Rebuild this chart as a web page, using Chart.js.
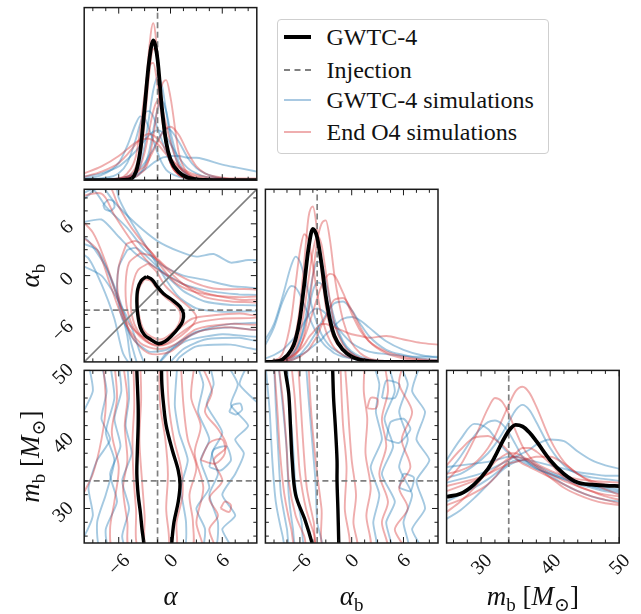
<!DOCTYPE html>
<html>
<head>
<meta charset="utf-8">
<script src="https://cdn.jsdelivr.net/npm/chart.js@4.4.1/dist/chart.umd.min.js"></script>
<style>
  body { margin: 0; background: #fff; width: 641px; height: 614px; overflow: hidden; position: relative; }
  canvas { position: absolute; left: 0; top: 0; }
  #legend { position: absolute; left: 276.5px; top: 19px; width: 270px; height: 133px; border: 1.5px solid #cfcfcf; border-radius: 4px; background: #fff;
    font-family: "Liberation Serif", "DejaVu Serif", serif; font-size: 24px; color: #111; }
  #legend .row { position: absolute; left: 0; height: 30px; line-height: 30px; width: 100%; }
  #legend .h { position: absolute; left: 6px; width: 27px; }
  #legend .t { position: absolute; left: 49px; white-space: nowrap; }
</style>
</head>
<body>
<canvas id="p0" width="641" height="614"></canvas>
<canvas id="p1" width="641" height="614"></canvas>
<canvas id="p2" width="641" height="614"></canvas>
<canvas id="p3" width="641" height="614"></canvas>
<canvas id="p4" width="641" height="614"></canvas>
<canvas id="p5" width="641" height="614"></canvas>
<div id="legend">
  <div class="row" style="top:2px"><span class="h" style="top:13px;border-top:4px solid #000"></span><span class="t">GWTC-4</span></div>
  <div class="row" style="top:35px"><span class="h" style="top:14px;border-top:2px dashed #808080"></span><span class="t">Injection</span></div>
  <div class="row" style="top:65px"><span class="h" style="top:14px;border-top:2px solid #a9c9e2"></span><span class="t">GWTC-4 simulations</span></div>
  <div class="row" style="top:97px"><span class="h" style="top:14px;border-top:2px solid #efaeaf"></span><span class="t">End O4 simulations</span></div>
</div>
<script>
const W = 641, H = 614;
const colX = [84.2, 265.4, 446.6];
const rowY = [7.6, 189.3, 370.4];
const SIZE = 172.6;

// injected values and axis ranges
const injAlpha = -1.5, injAlphaB = -4, injMb = 34;
const alphaRange = [-10, 10], alphaBRange = [-10, 10], mbRange = [25, 50];
const angleTicks = [-6, 0, 6], angleTickLabels = ["\u22126", "0", "6"];
const angleMinor = [-9, -7.5, -4.5, -3, -1.5, 1.5, 3, 4.5, 7.5, 9];
const mbTicks = [30, 40, 50], mbTickLabels = ["30", "40", "50"];
const mbMinor = [26, 28, 32, 34, 36, 38, 42, 44, 46, 48];

// 1D marginal of alpha
const alphaGrid = [-10, -8, -6, -5, -4, -3.5, -3, -2.5, -2, -1.5, -1, -0.5, 0, 1, 2, 3, 4, 6, 8, 10];
const alphaGwtc = [0, 0, 0, 0.003, 0.05, 0.17, 0.42, 0.68, 0.81, 0.70, 0.42, 0.22, 0.12, 0.045, 0.015, 0.005, 0.002, 0, 0, 0];
const alphaRed = [
  [0, 0, 0.005, 0.02, 0.08, 0.18, 0.42, 0.75, 0.91, 0.72, 0.40, 0.20, 0.10, 0.03, 0.01, 0, 0, 0, 0, 0],
  [0, 0, 0, 0.005, 0.02, 0.04, 0.06, 0.12, 0.25, 0.42, 0.55, 0.58, 0.48, 0.15, 0.04, 0.01, 0, 0, 0, 0],
  [0, 0, 0.01, 0.04, 0.14, 0.30, 0.50, 0.66, 0.68, 0.55, 0.36, 0.20, 0.10, 0.03, 0.01, 0, 0, 0, 0, 0],
  [0.02, 0.05, 0.10, 0.15, 0.21, 0.24, 0.26, 0.27, 0.26, 0.24, 0.21, 0.17, 0.13, 0.08, 0.05, 0.03, 0.02, 0.01, 0.005, 0],
  [0.04, 0.08, 0.14, 0.18, 0.22, 0.23, 0.24, 0.24, 0.23, 0.21, 0.18, 0.15, 0.12, 0.07, 0.04, 0.02, 0.01, 0.005, 0, 0],
  [0, 0, 0, 0.01, 0.04, 0.08, 0.16, 0.28, 0.40, 0.46, 0.42, 0.32, 0.22, 0.08, 0.03, 0.01, 0, 0, 0, 0],
  [0, 0, 0.01, 0.02, 0.04, 0.06, 0.08, 0.12, 0.17, 0.22, 0.27, 0.30, 0.31, 0.26, 0.16, 0.08, 0.04, 0.015, 0.01, 0.01],
  [0, 0, 0, 0.01, 0.05, 0.14, 0.33, 0.60, 0.76, 0.70, 0.45, 0.22, 0.10, 0.03, 0.01, 0, 0, 0, 0, 0]
];
const alphaBlue = [
  [0, 0, 0, 0.01, 0.04, 0.09, 0.20, 0.36, 0.52, 0.60, 0.55, 0.40, 0.24, 0.08, 0.03, 0.01, 0, 0, 0, 0],
  [0, 0.01, 0.04, 0.10, 0.24, 0.33, 0.39, 0.40, 0.37, 0.30, 0.23, 0.16, 0.10, 0.04, 0.02, 0.01, 0, 0, 0, 0],
  [0.005, 0.008, 0.01, 0.02, 0.03, 0.045, 0.06, 0.08, 0.10, 0.115, 0.13, 0.135, 0.14, 0.14, 0.13, 0.13, 0.12, 0.09, 0.07, 0.05],
  [0, 0, 0.01, 0.02, 0.05, 0.07, 0.10, 0.14, 0.18, 0.23, 0.27, 0.30, 0.29, 0.22, 0.13, 0.07, 0.04, 0.01, 0, 0],
  [0.01, 0.03, 0.10, 0.20, 0.33, 0.37, 0.36, 0.30, 0.23, 0.16, 0.10, 0.06, 0.04, 0.02, 0.01, 0, 0, 0, 0, 0],
  [0, 0, 0, 0, 0.02, 0.04, 0.08, 0.16, 0.29, 0.41, 0.46, 0.40, 0.28, 0.10, 0.03, 0.01, 0, 0, 0, 0],
  [0.02, 0.04, 0.08, 0.12, 0.17, 0.20, 0.23, 0.26, 0.28, 0.29, 0.28, 0.25, 0.21, 0.13, 0.07, 0.04, 0.02, 0.01, 0, 0]
];

// 1D marginal of alpha_b
const alphaBGrid = [-10, -9, -8, -7, -6.5, -6, -5.5, -5, -4.5, -4, -3.5, -3, -2.5, -2, -1, 0, 1, 2, 4, 6, 8, 10];
const alphaBGwtc = [0, 0.002, 0.015, 0.07, 0.13, 0.25, 0.45, 0.66, 0.77, 0.72, 0.57, 0.38, 0.24, 0.15, 0.07, 0.03, 0.012, 0.005, 0, 0, 0, 0];
const alphaBRed = [
  [0, 0.005, 0.02, 0.08, 0.16, 0.32, 0.58, 0.84, 0.90, 0.76, 0.52, 0.32, 0.20, 0.13, 0.07, 0.04, 0.02, 0.01, 0, 0, 0, 0],
  [0, 0, 0, 0.02, 0.04, 0.08, 0.16, 0.30, 0.50, 0.70, 0.80, 0.82, 0.70, 0.50, 0.24, 0.11, 0.05, 0.02, 0.005, 0, 0, 0],
  [0, 0.01, 0.05, 0.25, 0.45, 0.64, 0.74, 0.70, 0.56, 0.40, 0.27, 0.18, 0.12, 0.08, 0.04, 0.02, 0.01, 0, 0, 0, 0, 0],
  [0, 0.005, 0.01, 0.03, 0.05, 0.09, 0.14, 0.21, 0.29, 0.37, 0.44, 0.49, 0.51, 0.50, 0.40, 0.28, 0.18, 0.12, 0.06, 0.03, 0.015, 0.01],
  [0, 0.005, 0.01, 0.03, 0.05, 0.07, 0.10, 0.14, 0.17, 0.20, 0.22, 0.22, 0.21, 0.20, 0.18, 0.16, 0.15, 0.14, 0.15, 0.13, 0.11, 0.10],
  [0, 0, 0, 0.01, 0.02, 0.03, 0.05, 0.07, 0.11, 0.15, 0.21, 0.26, 0.32, 0.36, 0.37, 0.30, 0.20, 0.12, 0.05, 0.02, 0.01, 0],
  [0, 0, 0.01, 0.04, 0.08, 0.16, 0.30, 0.48, 0.64, 0.73, 0.68, 0.52, 0.35, 0.22, 0.10, 0.05, 0.02, 0.01, 0, 0, 0, 0]
];
const alphaBBlue = [
  [0.13, 0.22, 0.38, 0.56, 0.61, 0.58, 0.50, 0.40, 0.30, 0.22, 0.16, 0.12, 0.09, 0.07, 0.04, 0.02, 0.01, 0.005, 0, 0, 0, 0],
  [0.10, 0.20, 0.35, 0.44, 0.43, 0.39, 0.33, 0.27, 0.21, 0.16, 0.12, 0.09, 0.07, 0.05, 0.03, 0.02, 0.01, 0.005, 0, 0, 0, 0],
  [0, 0, 0.01, 0.03, 0.06, 0.12, 0.22, 0.36, 0.50, 0.58, 0.57, 0.47, 0.35, 0.25, 0.12, 0.06, 0.03, 0.015, 0.005, 0, 0, 0],
  [0, 0, 0, 0.01, 0.02, 0.04, 0.07, 0.10, 0.14, 0.18, 0.23, 0.27, 0.31, 0.34, 0.35, 0.30, 0.22, 0.15, 0.07, 0.04, 0.02, 0.01],
  [0, 0, 0.01, 0.02, 0.03, 0.04, 0.05, 0.07, 0.09, 0.11, 0.13, 0.16, 0.18, 0.21, 0.25, 0.26, 0.24, 0.20, 0.12, 0.07, 0.04, 0.025],
  [0, 0, 0.01, 0.04, 0.07, 0.12, 0.20, 0.30, 0.41, 0.46, 0.45, 0.38, 0.30, 0.22, 0.11, 0.05, 0.02, 0.01, 0, 0, 0, 0],
  [0.02, 0.04, 0.07, 0.12, 0.15, 0.19, 0.23, 0.27, 0.30, 0.31, 0.30, 0.28, 0.25, 0.22, 0.16, 0.11, 0.08, 0.06, 0.045, 0.035, 0.03, 0.03]
];

// 1D marginal of m_b
const mbGrid = [25, 27, 29, 31, 32, 33, 34, 35, 36, 37, 38, 40, 42, 44, 46, 48, 50];
const mbGwtc = [0.268, 0.285, 0.34, 0.43, 0.50, 0.58, 0.65, 0.684, 0.675, 0.64, 0.59, 0.48, 0.40, 0.35, 0.338, 0.333, 0.33];
const mbRed = [
  [0.40, 0.42, 0.46, 0.55, 0.62, 0.71, 0.80, 0.88, 0.905, 0.87, 0.79, 0.60, 0.47, 0.40, 0.36, 0.34, 0.33],
  [0.36, 0.45, 0.60, 0.78, 0.84, 0.82, 0.75, 0.65, 0.56, 0.50, 0.46, 0.42, 0.39, 0.37, 0.36, 0.355, 0.35],
  [0.45, 0.54, 0.61, 0.62, 0.60, 0.57, 0.53, 0.49, 0.46, 0.44, 0.42, 0.38, 0.34, 0.30, 0.27, 0.25, 0.23],
  [0.30, 0.33, 0.36, 0.40, 0.43, 0.46, 0.49, 0.50, 0.49, 0.47, 0.44, 0.38, 0.32, 0.28, 0.25, 0.23, 0.22],
  [0.22, 0.25, 0.29, 0.34, 0.38, 0.43, 0.48, 0.52, 0.55, 0.55, 0.53, 0.46, 0.38, 0.33, 0.30, 0.27, 0.25],
  [0.33, 0.35, 0.37, 0.40, 0.42, 0.44, 0.46, 0.47, 0.48, 0.49, 0.50, 0.50, 0.46, 0.40, 0.35, 0.31, 0.28],
  [0.18, 0.24, 0.32, 0.42, 0.47, 0.50, 0.52, 0.52, 0.50, 0.48, 0.45, 0.40, 0.36, 0.33, 0.30, 0.28, 0.27]
];
const mbBlue = [
  [0.38, 0.40, 0.45, 0.52, 0.57, 0.63, 0.70, 0.77, 0.80, 0.77, 0.70, 0.55, 0.45, 0.40, 0.38, 0.37, 0.36],
  [0.40, 0.50, 0.62, 0.70, 0.71, 0.69, 0.64, 0.57, 0.50, 0.46, 0.43, 0.40, 0.37, 0.35, 0.33, 0.32, 0.31],
  [0.48, 0.60, 0.69, 0.66, 0.61, 0.56, 0.52, 0.49, 0.47, 0.45, 0.43, 0.40, 0.37, 0.34, 0.32, 0.30, 0.29],
  [0.35, 0.37, 0.39, 0.42, 0.44, 0.46, 0.48, 0.50, 0.52, 0.54, 0.57, 0.60, 0.59, 0.53, 0.48, 0.45, 0.43],
  [0.14, 0.19, 0.26, 0.34, 0.38, 0.42, 0.45, 0.47, 0.48, 0.47, 0.45, 0.41, 0.38, 0.35, 0.33, 0.31, 0.30],
  [0.44, 0.45, 0.46, 0.47, 0.48, 0.49, 0.50, 0.50, 0.49, 0.48, 0.47, 0.45, 0.43, 0.41, 0.40, 0.39, 0.39],
  [0.24, 0.28, 0.32, 0.37, 0.40, 0.43, 0.46, 0.48, 0.48, 0.46, 0.44, 0.39, 0.34, 0.30, 0.27, 0.25, 0.24]
];

// 2D contours: alpha (x) vs alpha_b (y)
const abGwtc = [[-2.8, -0.1], [-3.4, -0.6], [-3.8, -1.6], [-3.9, -3.0], [-3.8, -4.5], [-3.5, -6.0], [-3.0, -6.9], [-2.3, -7.4], [-1.4, -7.9], [-0.6, -7.6], [0.1, -7.0], [0.9, -6.1], [1.4, -5.3], [1.5, -4.4], [1.1, -3.6], [0.3, -2.9], [-0.8, -2.1], [-1.6, -1.2], [-2.1, -0.5], [-2.8, -0.1]];
const abRed = [
  [[-3.0, -0.4], [-3.6, -1.4], [-3.8, -3.0], [-3.6, -4.8], [-3.1, -6.3], [-2.2, -7.1], [-1.2, -7.4], [-0.3, -7.0], [0.6, -6.2], [1.1, -5.2], [1.1, -4.2], [0.5, -3.4], [-0.5, -2.6], [-1.5, -1.6], [-2.3, -0.6], [-3.0, -0.4]],
  [[-2.6, 1.4], [-3.8, 0.6], [-4.4, -1.2], [-4.6, -3.5], [-4.2, -5.6], [-3.2, -7.2], [-1.8, -8.1], [-0.3, -7.9], [1.3, -6.9], [2.5, -5.8], [3.0, -4.8], [2.4, -3.9], [1.0, -2.7], [-0.6, -1.2], [-1.6, 0.4], [-2.6, 1.4]],
  [[-5.1, 3.7], [-4.0, 4.0], [-2.5, 3.0], [-1.2, 1.2], [0.5, -0.8], [2.5, -1.8], [5, -2.3], [8, -2.5], [11, -2.6], [11, -4.6], [8, -4.4], [5, -4.6], [2.5, -5.0], [0.8, -6.3], [-0.8, -7.6], [-2.2, -7.6], [-4.0, -6.5], [-5.2, -5.0], [-6.1, -2.0], [-6.0, 1.0], [-5.1, 3.7]],
  [[-11, 9], [-8, 9.5], [-6.5, 7], [-4.5, 4], [-2.5, 1.5], [0.5, -0.5], [4, -2], [8, -2.8], [11, -3], [11, -5.5], [7, -5.6], [3, -6.2], [0.5, -8.0], [-1.5, -8.5], [-3.5, -7.8], [-5.5, -5], [-7, -1], [-8.5, 3], [-11, 5]],
  [[-3.5, 2.6], [-4.8, 1.5], [-5.2, -1.0], [-5.0, -4.0], [-4.0, -6.5], [-2.5, -7.8], [-0.8, -8.0], [1.0, -6.8], [3, -5.5], [6, -5.0], [11, -4.7], [11, -3.3], [7, -3.0], [4, -2.5], [1.5, -1.0], [-0.5, 0.8], [-2.0, 2.2], [-3.5, 2.6]],
  [[-11, 11], [-7.5, 11], [-6, 8], [-4.5, 5.5], [-2.5, 3], [-0.5, 1], [2, -0.5], [5, -1.5], [11, -2], [11, -6], [6, -6], [2.5, -6.8], [0, -8.8], [-2.5, -9], [-4.5, -7], [-6, -3], [-7.5, 1.5], [-9, 5], [-11, 7]]
];
const abBlue = [
  [[-11, 11], [-8.5, 11], [-6.5, 8.5], [-4, 6], [-1.5, 4], [1, 2.8], [3, 2.2], [5, 2.5], [7, 1.5], [9, 1.8], [11, 1.5], [11, -7.5], [8, -7.2], [4, -7.4], [1.5, -8.5], [0, -10], [-0.5, -11], [-4, -11], [-5.5, -9], [-6.5, -5], [-8, -1], [-9.5, 2], [-11, 3]],
  [[-11, 9], [-9, 10], [-7.5, 8], [-5, 5.5], [-3, 3], [-1, 1.2], [1.5, 0], [4, -0.5], [7, -1.2], [11, -1.8], [11, -6.2], [7, -6], [3, -6.5], [0.5, -8.2], [-1.2, -10], [-2.5, -11], [-4.5, -10], [-5, -7], [-6, -3], [-7.5, 1], [-9.5, 4], [-11, 5]],
  [[-5, 3], [-6, 1], [-6.2, -2], [-5.6, -5], [-4.2, -7.5], [-2.5, -8.8], [-0.5, -8.6], [1.5, -7.4], [4, -6.2], [7, -5.6], [11, -5.3], [11, -3.6], [7, -3.4], [4, -3], [1.5, -1.8], [-0.5, 0], [-2.5, 2], [-4, 3.2], [-5, 3]],
  [[-11, 8], [-9, 9.8], [-8, 11], [-6.5, 11], [-6, 9], [-5, 7], [-3.5, 4.5], [-2, 2], [-0.5, -0.5], [1, -2.5], [3, -3.8], [6, -4.2], [11, -4.3], [11, -7], [6, -6.8], [2, -7.5], [-0.5, -9], [-2, -11], [-3.5, -11], [-4.5, -8], [-5.5, -4], [-7, 0], [-8.5, 3], [-11, 4]],
  [[-7.8, 8.2], [-7.2, 8.8], [-6.6, 8.6], [-6.5, 7.9], [-7.0, 7.5], [-7.6, 7.7], [-7.8, 8.2]],
  [[-11, 6], [-8, 6.5], [-6, 4.5], [-4, 2.5], [-1.5, 0.8], [1.5, -1], [4.5, -1.8], [8, -2.2], [11, -2.5], [11, -8.5], [7, -8], [3, -8.2], [1, -9.5], [0, -11], [-2.5, -11], [-3.5, -9], [-4.5, -6], [-6, -3], [-8, 0], [-11, 1.5]]
];

// 2D contours: alpha (x) vs m_b (y)
const amGwtc = [[-3.9, 51], [-3.9, 50], [-3.75, 45], [-3.75, 42], [-3.85, 38], [-3.9, 35], [-3.75, 32], [-3.5, 29.5], [-3.3, 27], [-3.1, 25], [-3.1, 24], [0.15, 24], [0.15, 25], [0.4, 28], [0.9, 31], [1.1, 33.5], [0.9, 35.5], [0.2, 38.5], [-0.5, 42], [-0.8, 45], [-1.0, 48], [-1.05, 51]];
const amRed = [
  [[-4.3, 51], [-4.2, 45], [-4.4, 40], [-4.3, 35], [-4.0, 30], [-3.6, 24], [0.5, 24], [0.7, 28], [1.4, 32], [1.2, 36], [0.4, 40], [-0.2, 45], [-0.4, 51]],
  [[-5.5, 51], [-5.0, 46], [-5.3, 42], [-5.0, 37], [-5.5, 33], [-5.0, 28], [-4.6, 24], [2.3, 24], [2.6, 28], [2.2, 32], [3.0, 36], [2.0, 40], [1.5, 45], [1.2, 51]],
  [[-3.5, 51], [-3.4, 46], [-3.6, 40], [-3.3, 34], [-3.0, 29], [-2.8, 24], [-0.3, 24], [-0.5, 30], [-0.3, 35], [-0.6, 40], [-1.2, 45], [-1.3, 51]],
  [[-6.5, 51], [-6.2, 46], [-6.8, 41], [-6, 36], [-6.5, 31], [-7, 27], [-6.5, 24], [5, 24], [4.5, 27], [5.5, 29], [4.5, 31.5], [6, 34], [5, 37], [6.5, 39], [5.5, 41.5], [4, 44], [4.8, 47], [3.5, 51]],
  [[3.5, 37], [4.5, 39.5], [6, 40], [6.3, 38], [5.2, 36.5], [3.5, 37]],
  [[5.8, 30], [6.3, 31], [7, 30.5], [6.8, 29.5], [5.8, 30]],
  [[-7.8, 51], [-7.5, 45], [-8, 40], [-9, 35], [-10.5, 31], [-11, 28], [-11, 24], [3.5, 24], [3, 28], [3.8, 33], [2.8, 38], [3.5, 42], [2.4, 46], [2.8, 51]]
];
const amBlue = [
  [[-8, 51], [-7.4, 47], [-8, 43], [-7, 40], [-8.5, 37], [-9.5, 33], [-9, 29], [-10, 26], [-11, 25], [-11, 24], [7, 24], [6, 27], [7.5, 29], [6, 32], [7.5, 35], [8.5, 38], [7.5, 40], [9, 42], [7, 45], [7.8, 48], [6.5, 51]],
  [[-6, 51], [-5.7, 47], [-6.5, 43], [-5.8, 39], [-7, 35], [-6.2, 31], [-7.5, 27], [-7, 24], [3.5, 24], [4, 27], [3, 30], [4.5, 33], [3.5, 37], [4.5, 40], [3.2, 44], [3.8, 48], [3, 51]],
  [[-5, 51], [-4.8, 46], [-5.2, 42], [-4.5, 38], [-5.6, 34], [-4.8, 30], [-5.6, 26], [-5, 24], [1.5, 24], [1.8, 28], [1.2, 33], [2, 37], [1.0, 41], [0.5, 45], [0.8, 51]],
  [[-9.5, 51], [-9, 47], [-10.5, 43], [-11, 41], [-11, 24], [11, 24], [11, 44], [9.5, 46], [8, 48], [9, 51]],
  [[6.8, 44], [7.2, 45], [8.1, 45.2], [8.3, 44.3], [7.6, 43.6], [6.8, 44]],
  [[-7, 51], [-6.5, 46], [-7.5, 41], [-6.5, 37], [-7.5, 32], [-8.5, 28], [-8, 24], [5, 24], [5.5, 28], [4.5, 32], [5.5, 35], [4.8, 38], [6, 41], [4.2, 45], [5, 48], [4.5, 51]],
  [[4.5, 36], [5, 38.5], [6.5, 39], [7, 37], [5.8, 35.5], [4.5, 36]]
];

// 2D contours: alpha_b (x) vs m_b (y)
const bmGwtc = [[-7.7, 51], [-7.7, 50], [-7.3, 46.7], [-7.1, 42], [-6.9, 37], [-6.5, 32], [-5.4, 28.3], [-4.6, 25], [-4.5, 24], [-1.5, 24], [-1.5, 25], [-1.6, 30], [-1.7, 34], [-1.7, 37], [-1.9, 42], [-2.1, 46], [-2.2, 50], [-2.2, 51]];
const bmRed = [
  [[-8.5, 51], [-8, 46], [-7.6, 40], [-7.3, 34], [-6.5, 29], [-5.5, 26], [-5, 24], [0.5, 24], [0.2, 28], [0.5, 32], [0.0, 37], [-0.3, 42], [-0.5, 46], [-0.8, 51]],
  [[-7, 51], [-6.6, 46], [-6.3, 40], [-6, 35], [-5.3, 30], [-4.3, 26], [-4, 24], [2, 24], [1.7, 29], [2.2, 33], [1.6, 38], [1.8, 43], [1.4, 47], [1.5, 51]],
  [[-6.2, 51], [-5.9, 45], [-5.6, 39], [-5.2, 33], [-4.4, 28], [-3.8, 24], [4, 24], [3.5, 28], [4.2, 31], [3.2, 35], [4, 39], [3.5, 43], [4.2, 47], [3.8, 51]],
  [[-9, 51], [-8.6, 44], [-8.3, 38], [-7.8, 32], [-7, 27], [-6.3, 24], [-0.5, 24], [-0.8, 30], [-0.6, 36], [-1.0, 42], [-1.2, 47], [-1.3, 51]],
  [[-5, 51], [-4.8, 46], [-4.5, 41], [-4, 35], [-3.5, 30], [-3, 24], [6, 24], [5, 27], [6.5, 30], [5.5, 33], [6.8, 36], [5.8, 40], [7, 44], [5.5, 48], [6, 51]],
  [[1.8, 44.5], [2.2, 46], [3, 45.8], [2.8, 44.5], [1.8, 44.5]]
];
const bmBlue = [
  [[-8.5, 51], [-8, 45], [-7.5, 38], [-7.3, 32], [-6.8, 27], [-6.3, 24], [8, 24], [7, 27], [8.5, 30], [7.5, 34], [9, 37], [7.5, 40], [8.5, 44], [7, 47], [8, 51]],
  [[-9, 51], [-8.8, 45], [-8.5, 38], [-8.2, 32], [-7.5, 27], [-7, 24], [4.5, 24], [4, 28], [5, 31], [3.5, 35], [4.8, 39], [3.8, 43], [5, 47], [4.2, 51]],
  [[-11, 51], [-11, 24], [-3.5, 24], [-4, 28], [-4.2, 34], [-4.6, 40], [-5, 46], [-5.3, 51]],
  [[-7.5, 51], [-7.2, 45], [-6.8, 39], [-6.5, 33], [-5.8, 28], [-5.3, 24], [2.8, 24], [2.5, 28], [3.2, 32], [2.2, 36], [3.5, 40], [2.8, 44], [3.2, 48], [2.5, 51]],
  [[4, 40], [4.5, 42.5], [6, 43], [6.8, 41.5], [5.5, 39.5], [4, 40]],
  [[5.5, 33], [6, 35], [7.2, 34.5], [6.8, 32.5], [5.5, 33]],
  [[3.5, 46], [4, 48.5], [5.5, 48], [5, 46], [3.5, 46]],
  [[-10, 51], [-9.5, 44], [-9.2, 37], [-8.8, 31], [-8, 26], [-7.5, 24], [6.5, 24], [6, 28], [7, 32], [5.5, 36], [6.5, 40], [5.5, 44], [6.5, 48], [5.5, 51]]
];

const BLUE = "rgba(31,119,180,0.4)";
const RED = "rgba(214,39,40,0.38)";
const GRAY = "#7f7f7f";
const FONT = '"Liberation Serif", "DejaVu Serif", serif';
const TICK_FS = 20, TITLE_FS = 27;

const alphaTitle = [{ t: "\u03b1", it: true }];
const alphaBTitle = [{ t: "\u03b1", it: true }, { t: "b", sub: true }];
const mbTitle = [{ t: "m", it: true }, { t: "b", sub: true }, { t: " [" }, { t: "M", it: true }, { t: "\u2299", sub: true }, { t: "]" }];

function curve(grid, vals, color, width, order) {
  return { data: grid.map((g, i) => ({ x: g, y: vals[i] })), borderColor: color, borderWidth: width,
    showLine: true, pointRadius: 0, cubicInterpolationMode: "monotone", order: order };
}
function contour(pts, color, width, order, tension) {
  return { data: pts.map(p => ({ x: p[0], y: p[1] })), borderColor: color, borderWidth: width,
    showLine: true, pointRadius: 0, tension: tension, borderJoinStyle: "round", order: order };
}
function injLine(a, b) {
  return { data: [{ x: a[0], y: a[1] }, { x: b[0], y: b[1] }], borderColor: GRAY, borderWidth: 1.7,
    borderDash: [6, 3.5], showLine: true, pointRadius: 0, order: 1 };
}

function fontFor(p, size) {
  const s = p.sub ? Math.round(size * 0.7) : size;
  return (p.it ? "italic " : "") + s + "px " + FONT;
}
function drawMath(ctx, parts, x, y, size) {
  let w = 0;
  parts.forEach(p => { ctx.font = fontFor(p, size); w += ctx.measureText(p.t).width; });
  let cx = x - w / 2;
  ctx.textAlign = "left"; ctx.textBaseline = "alphabetic";
  parts.forEach(p => {
    ctx.font = fontFor(p, size);
    ctx.fillText(p.t, cx, y + (p.sub ? size * 0.22 : 0));
    cx += ctx.measureText(p.t).width;
  });
}
function rotLabel(ctx, text, x, y, side) {
  ctx.font = TICK_FS + "px " + FONT;
  const w = ctx.measureText(text).width, h = TICK_FS * 0.66;
  const d = (w + h) / (2 * Math.SQRT2);
  ctx.save();
  if (side === "x") ctx.translate(x, y + d); else ctx.translate(x - d, y);
  ctx.rotate(-Math.PI / 4);
  ctx.textAlign = "center"; ctx.textBaseline = "alphabetic";
  ctx.fillText(text, 0, h / 2);
  ctx.restore();
}

function decoPlugin(cfg) {
  return {
    id: "deco",
    afterDatasetsDraw(chart) {
      const ctx = chart.ctx, a = chart.chartArea, xs = chart.scales.x, ys = chart.scales.y;
      ctx.save();
      ctx.strokeStyle = "#1a1a1a";
      ctx.lineWidth = 1;
      const seg = (x1, y1, x2, y2) => { ctx.beginPath(); ctx.moveTo(x1, y1); ctx.lineTo(x2, y2); ctx.stroke(); };
      const xt = (vals, len) => vals.forEach(v => { const p = xs.getPixelForValue(v); seg(p, a.bottom, p, a.bottom - len); seg(p, a.top, p, a.top + len); });
      const yt = (vals, len) => vals.forEach(v => { const p = ys.getPixelForValue(v); seg(a.left, p, a.left + len, p); seg(a.right, p, a.right - len, p); });
      xt(cfg.xMajor, 6); xt(cfg.xMinor, 3.5);
      if (cfg.yMajor) { yt(cfg.yMajor, 6); yt(cfg.yMinor, 3.5); }
      ctx.lineWidth = 1.5;
      ctx.strokeRect(a.left, a.top, a.right - a.left, a.bottom - a.top);
      ctx.fillStyle = "#111";
      if (cfg.xLabels) {
        cfg.xMajor.forEach((v, i) => rotLabel(ctx, cfg.xLabels[i], xs.getPixelForValue(v), a.bottom + 9, "x"));
        drawMath(ctx, cfg.xTitle, (a.left + a.right) / 2, 605, TITLE_FS);
      }
      if (cfg.yLabels) {
        cfg.yMajor.forEach((v, i) => rotLabel(ctx, cfg.yLabels[i], a.left - 10, ys.getPixelForValue(v) + 3, "y"));
        ctx.save();
        ctx.translate(39, (a.top + a.bottom) / 2);
        ctx.rotate(-Math.PI / 2);
        drawMath(ctx, cfg.yTitle, 0, 0, TITLE_FS);
        ctx.restore();
      }
      ctx.restore();
    }
  };
}

function panel(id, col, row, xr, yr, datasets, cfg) {
  const left = colX[col], top = rowY[row];
  new Chart(document.getElementById(id), {
    type: "scatter",
    data: { datasets: datasets },
    options: {
      responsive: false, animation: false, devicePixelRatio: 1, events: [],
      layout: { padding: { left: left, top: top, right: W - left - SIZE, bottom: H - top - SIZE } },
      plugins: { legend: { display: false }, tooltip: { enabled: false } },
      scales: {
        x: { type: "linear", min: xr[0], max: xr[1], display: false },
        y: { type: "linear", min: yr[0], max: yr[1], display: false }
      }
    },
    plugins: [decoPlugin(cfg)]
  });
}

function oneD(grid, gwtc, blue, red, inj) {
  const ds = [curve(grid, gwtc, "#000", 3.8, 0), injLine([inj, 0], [inj, 1])];
  red.forEach(v => ds.push(curve(grid, v, RED, 1.9, 2)));
  blue.forEach(v => ds.push(curve(grid, v, BLUE, 1.9, 3)));
  return ds;
}
function twoD(gwtc, blue, red, injX, injY, xr, yr) {
  const ds = [contour(gwtc, "#000", 3.4, 0, 0.35), injLine([injX, yr[0]], [injX, yr[1]]), injLine([xr[0], injY], [xr[1], injY])];
  red.forEach(c => ds.push(contour(c, RED, 1.9, 2, 0.3)));
  blue.forEach(c => ds.push(contour(c, BLUE, 1.9, 3, 0.2)));
  return ds;
}

const unit = [0, 1];
panel("p0", 0, 0, alphaRange, unit, oneD(alphaGrid, alphaGwtc, alphaBlue, alphaRed, injAlpha),
  { xMajor: angleTicks, xMinor: angleMinor });

const abSets = twoD(abGwtc, abBlue, abRed, injAlpha, injAlphaB, alphaRange, alphaBRange);
abSets.push({ data: [{ x: alphaRange[0], y: alphaBRange[0] }, { x: alphaRange[1], y: alphaBRange[1] }],
  borderColor: GRAY, borderWidth: 1.7, showLine: true, pointRadius: 0, order: 1 });
panel("p1", 0, 1, alphaRange, alphaBRange, abSets,
  { xMajor: angleTicks, xMinor: angleMinor, yMajor: angleTicks, yMinor: angleMinor, yLabels: angleTickLabels, yTitle: alphaBTitle });

panel("p2", 1, 1, alphaBRange, unit, oneD(alphaBGrid, alphaBGwtc, alphaBBlue, alphaBRed, injAlphaB),
  { xMajor: angleTicks, xMinor: angleMinor });

panel("p3", 0, 2, alphaRange, mbRange, twoD(amGwtc, amBlue, amRed, injAlpha, injMb, alphaRange, mbRange),
  { xMajor: angleTicks, xMinor: angleMinor, xLabels: angleTickLabels, xTitle: alphaTitle,
    yMajor: mbTicks, yMinor: mbMinor, yLabels: mbTickLabels, yTitle: mbTitle });

panel("p4", 1, 2, alphaBRange, mbRange, twoD(bmGwtc, bmBlue, bmRed, injAlphaB, injMb, alphaBRange, mbRange),
  { xMajor: angleTicks, xMinor: angleMinor, xLabels: angleTickLabels, xTitle: alphaBTitle, yMajor: mbTicks, yMinor: mbMinor });

panel("p5", 2, 2, mbRange, unit, oneD(mbGrid, mbGwtc, mbBlue, mbRed, injMb),
  { xMajor: mbTicks, xMinor: mbMinor, xLabels: mbTickLabels, xTitle: mbTitle });
</script>
</body>
</html>
